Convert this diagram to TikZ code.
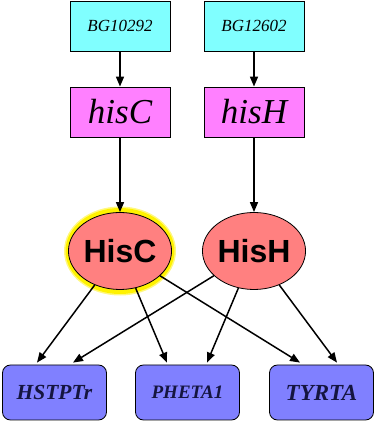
\documentclass[tikz,border=0pt]{standalone}
\usepackage{fontspec}
\setmainfont{Liberation Serif}
\newfontfamily\protfont{Liberation Sans}
\usetikzlibrary{shapes.geometric,arrows.meta}
\definecolor{bgcyan}{HTML}{80FFFF}
\definecolor{genepink}{HTML}{FF80FF}
\definecolor{protred}{HTML}{FF8080}
\definecolor{rxnblue}{HTML}{8080FF}
\definecolor{rxntext}{HTML}{151540}
\tikzset{
  bgbox/.style={draw=black, line width=0.8pt, fill=bgcyan, minimum width=100pt,
    minimum height=50pt, inner sep=0pt, font=\itshape\fontsize{17}{17}\selectfont},
  genebox/.style={draw=black, line width=0.8pt, fill=genepink, minimum width=100pt,
    minimum height=50pt, inner sep=0pt, font=\itshape\fontsize{35}{35}\selectfont},
  protein/.style={ellipse, draw=black, line width=0.8pt, fill=protred, minimum width=100pt,
    minimum height=77pt, inner sep=0pt, font=\protfont\bfseries\fontsize{32}{32}\selectfont},
  rxnbox/.style={draw=black, line width=0.8pt, fill=rxnblue, rounded corners=8pt,
    minimum width=104pt, minimum height=55pt, inner sep=0pt, text=rxntext},
  link/.style={draw=black, line width=1.5pt, -{Triangle[length=10pt,width=8pt]}},
}
\begin{document}
\begin{tikzpicture}[x=1pt,y=1pt]
\useasboundingbox (0,0) rectangle (376,422);
% gene identifiers
\node[bgbox] (bg1) at (120,396) {BG10292};
\node[bgbox] (bg2) at (254,396) {BG12602};
% genes
\node[genebox] (gC) at (120,310) {hisC};
\node[genebox] (gH) at (254,310) {hisH};
% highlight ring behind HisC
\draw[yellow!50, line width=7pt] (120,171) ellipse [x radius=52.5pt, y radius=41pt];
\draw[yellow, line width=5pt] (120,171) ellipse [x radius=52pt, y radius=40.5pt];
% proteins
\node[protein] (pC) at (120,171) {HisC};
\node[protein] (pH) at (254,171) {HisH};
% reactions
\node[rxnbox, font=\bfseries\itshape\fontsize{21.5}{21.5}\selectfont] (r1) at (54.5,29.5) {HSTPTr};
\node[rxnbox, font=\bfseries\itshape\fontsize{19}{19}\selectfont] (r2) at (187.5,29.5) {PHETA1};
\node[rxnbox, font=\bfseries\itshape\fontsize{23}{23}\selectfont] (r3) at (321.5,29.5) {TYRTA};
% gene to protein chains
\draw[link] (bg1) -- (gC);
\draw[link] (bg2) -- (gH);
\draw[link] (gC) -- (pC);
\draw[link] (gH) -- (pH);
% catalysis links
\draw[link] (pC) -- ([xshift=-17.5pt,yshift=2pt]r1.north);
\draw[link] (pC) -- ([xshift=-20.5pt,yshift=2pt]r2.north);
\draw[link] (pC) -- ([xshift=-21.5pt,yshift=2pt]r3.north);
\draw[link] (pH) -- ([xshift=18.5pt,yshift=2pt]r1.north);
\draw[link] (pH) -- ([xshift=19.5pt,yshift=2pt]r2.north);
\draw[link] (pH) -- ([xshift=15.5pt,yshift=2pt]r3.north);
\end{tikzpicture}
\end{document}
